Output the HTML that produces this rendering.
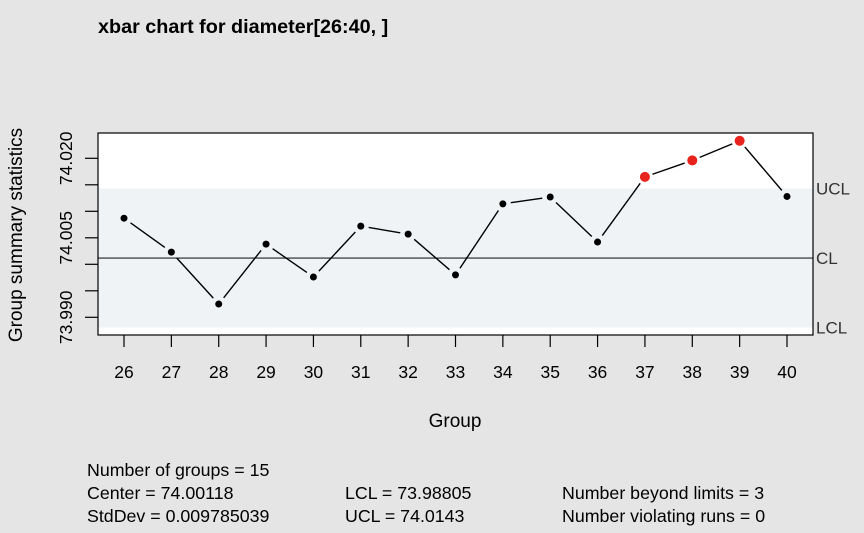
<!DOCTYPE html>
<html><head><meta charset="utf-8"><style>
body{margin:0;background:#e5e5e5;}
svg{display:block;font-family:"Liberation Sans",Arial,sans-serif;}
</style></head><body>
<svg id="chart" width="864" height="533" viewBox="0 0 864 533">
<rect x="0" y="0" width="864" height="533" fill="#e5e5e5"/>
<text x="98" y="33" font-size="19.8" font-weight="bold" fill="#000">xbar chart for diameter[26:40, ]</text>
<g id="plot"></g>
<text x="455" y="427" font-size="19" text-anchor="middle">Group</text>
<text transform="translate(22,235) rotate(-90)" font-size="19" text-anchor="middle">Group summary statistics</text>
<g font-size="17.8" fill="#000">
<text x="87" y="476">Number of groups = 15</text>
<text x="87" y="499">Center = 74.00118</text>
<text x="87" y="522">StdDev = 0.009785039</text>
<text x="345" y="499">LCL = 73.98805</text>
<text x="345" y="522">UCL = 74.0143</text>
<text x="562" y="499">Number beyond limits = 3</text>
<text x="562" y="522">Number violating runs = 0</text>
</g>
</svg>
<script>
const groups=[26,27,28,29,30,31,32,33,34,35,36,37,38,39,40];
const means=[74.0087,74.0023,73.9925,74.0038,73.9976,74.0072,74.0057,73.9980,74.0114,74.0127,74.0042,74.0165,74.0196,74.0233,74.0128];
const yTicks=[73.990,73.995,74.000,74.005,74.010,74.015,74.020];
const yTickLabels=["73.990","","","74.005","","","74.020"];
const center=74.00118, lcl=73.98805, ucl=74.0143;
const NS="http://www.w3.org/2000/svg";
const L=98,R=813,T=133,B=335;
const xs=g=>124+(g-26)*(787-124)/14;
const ys=v=>317.3-(v-73.99)*5300;
const plot=document.getElementById('plot');
function mk(tag,attrs){const e=document.createElementNS(NS,tag);for(const k in attrs)e.setAttribute(k,attrs[k]);plot.appendChild(e);return e;}
let e;
e=mk('rect',{x:L,y:T,width:R-L,height:B-T,fill:'#fff'});


e=mk('rect',{x:L,y:ys(ucl),width:R-L,height:ys(lcl)-ys(ucl),fill:'#f0f3f6'});


e=mk('line',{x1:L,x2:R,y1:ys(center),y2:ys(center),stroke:'#222','stroke-width':1.2});


e=mk('rect',{x:L,y:T,width:R-L,height:B-T,fill:'none',stroke:'#000','stroke-width':1.2});


[['UCL',ucl],['CL',center],['LCL',lcl]].forEach(([t,v])=>{
 e=mk('text',{x:816,y:ys(v)+6,'font-size':17,fill:'#333'});e.textContent=t;
 
 
});
yTicks.forEach((v,i)=>{
 e=mk('line',{x1:L-13,x2:L,y1:ys(v),y2:ys(v),stroke:'#000','stroke-width':1.2});
 
 
 if(yTickLabels[i]){
  e=mk('text',{transform:`translate(72,${ys(v)}) rotate(-90)`,'font-size':17.5,'text-anchor':'middle'});
  e.textContent=yTickLabels[i];
  
  
 }
});
groups.forEach(g=>{
 e=mk('line',{x1:xs(g),x2:xs(g),y1:B,y2:B+12,stroke:'#000','stroke-width':1.2});
 
 
 e=mk('text',{x:xs(g),y:378,'font-size':17.5,'text-anchor':'middle'});
 e.textContent=g;
 
 
});
for(let i=0;i<groups.length-1;i++){
 const x1=xs(groups[i]),y1=ys(means[i]),x2=xs(groups[i+1]),y2=ys(means[i+1]);
 const d=Math.hypot(x2-x1,y2-y1),g=8;
 if(d<=2*g)continue;
 const ux=(x2-x1)/d,uy=(y2-y1)/d;
 e=mk('line',{x1:x1+ux*g,y1:y1+uy*g,x2:x2-ux*g,y2:y2-uy*g,stroke:'#000','stroke-width':1.4});
 
 
}
groups.forEach((g,i)=>{
 const out=means[i]>ucl||means[i]<lcl;
 e=mk('circle',{cx:xs(g),cy:ys(means[i]),r:out?5:3.5,fill:out?'#e8231c':'#000'});
 
 
});
</script>
</body></html>
